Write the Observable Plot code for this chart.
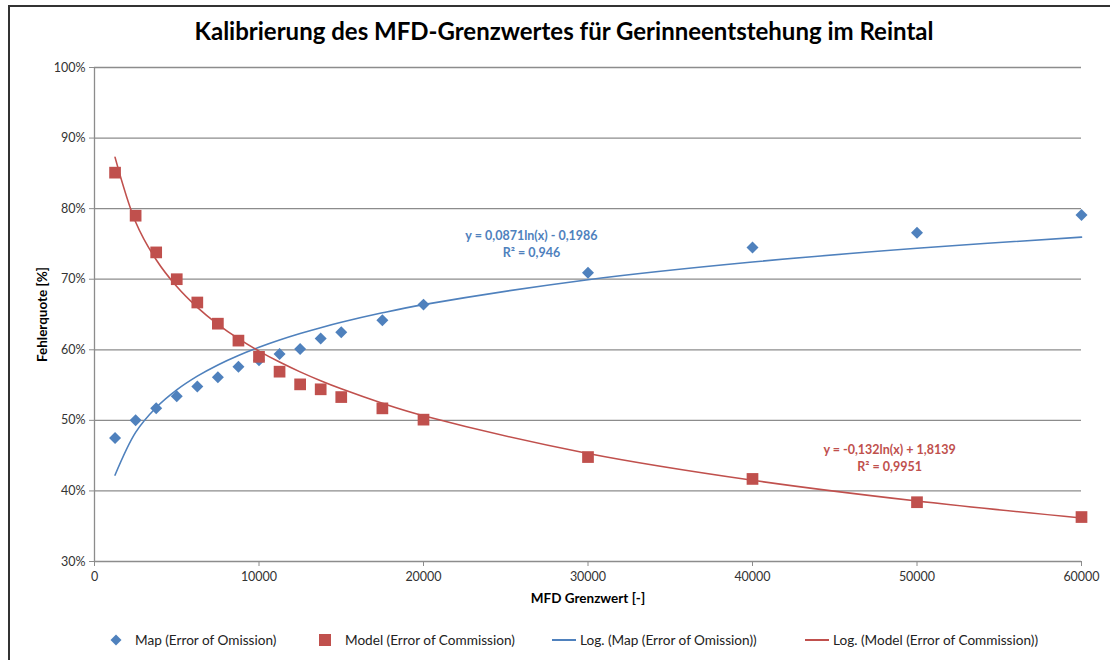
<!DOCTYPE html>
<html><head><meta charset="utf-8">
<script src="https://cdn.jsdelivr.net/npm/d3@7"></script>
<script src="https://cdn.jsdelivr.net/npm/@observablehq/plot@0.6"></script>
<style>
body{margin:0;background:#fff;font-family:Lato,"Open Sans",sans-serif;}
#wrap{position:relative;width:1110px;height:660px;overflow:hidden;background:#fff;}
#btop{position:absolute;left:8px;top:5px;width:1102px;height:2px;background:#333;}
#bleft{position:absolute;left:8px;top:5px;width:2px;height:655px;background:#333;}
#title{position:absolute;left:0;top:16px;width:1128px;text-align:center;font-weight:bold;font-size:24px;color:#000;font-family:Lato,sans-serif;}
#chart{position:absolute;left:0;top:40px;}
#legend{position:absolute;top:632px;left:0;width:1110px;height:20px;font-size:13.6px;color:#222;}
.li{position:absolute;top:0;display:flex;align-items:center;white-space:nowrap;}
.li svg{margin-right:4px;}
</style></head>
<body><div id="wrap"><div id="btop"></div><div id="bleft"></div>
<div id="title">Kalibrierung des MFD-Grenzwertes für Gerinneentstehung im Reintal</div>
<div id="chart"></div>
<div id="legend"></div>
</div>
<script>
const xs = [1250,2500,3750,5000,6250,7500,8750,10000,11250,12500,13750,15000,17500,20000,30000,40000,50000,60000];
const mapErr = [0.475,0.500,0.517,0.534,0.548,0.561,0.576,0.585,0.594,0.601,0.616,0.625,0.642,0.664,0.709,0.745,0.766,0.791];
const modelErr = [0.851,0.790,0.738,0.700,0.667,0.637,0.613,0.590,0.569,0.551,0.544,0.533,0.517,0.501,0.448,0.417,0.384,0.363];
const mapFit = [0.0871, -0.1986];   // slope, intercept of log trend (from chart)
const modelFit = [-0.132, 1.8139];
const mapEq = ["y = 0,0871ln(x) - 0,1986", "R² = 0,946"];
const modelEq = ["y = -0,132ln(x) + 1,8139", "R² = 0,9951"];
const xTicks = [0,10000,20000,30000,40000,50000,60000];
const yTicks = [0.3,0.4,0.5,0.6,0.7,0.8,0.9,1.0];
const seriesNames = ["Map (Error of Omission)","Model (Error of Commission)","Log. (Map (Error of Omission))","Log. (Model (Error of Commission))"];

const BLUE = "#4F81BD", RED = "#C0504D", GRID = "#8c8c8c";
const mapPts = xs.map((x,i)=>({x, y: mapErr[i]}));
const modelPts = xs.map((x,i)=>({x, y: modelErr[i]}));
const mapTrend = xs.map(x=>({x, y: mapFit[0]*Math.log(x)+mapFit[1]}));
const modelTrend = xs.map(x=>({x, y: modelFit[0]*Math.log(x)+modelFit[1]}));

const plot = Plot.plot({
  width: 1110, height: 590,
  marginLeft: 94, marginRight: 29, marginTop: 27, marginBottom: 69,
  style: {fontFamily: "Lato, sans-serif", fontSize: "12.5px", color: "#333", background: "transparent"},
  x: {domain: [0, 60000]},
  y: {domain: [0.3, 1.0]},
  marks: [
    Plot.gridY(yTicks.slice(1), {stroke: GRID, strokeOpacity: 1, strokeWidth: 1.3}),
    Plot.ruleX([0], {stroke: GRID, strokeWidth: 1.3}),
    Plot.ruleY([0.3], {stroke: GRID, strokeWidth: 1.3}),
    Plot.axisY(yTicks, {tickSize: 5, stroke: GRID, tickPadding: 4, fontSize: 12.5,
      tickFormat: d => Math.round(d*100) + "%",
      label: "Fehlerquote [%]", labelAnchor: "center", labelArrow: "none", labelOffset: 57}),
    Plot.axisX(xTicks, {tickSize: 5, stroke: GRID, tickPadding: 6, fontSize: 12.5,
      tickFormat: d => String(d),
      label: "MFD Grenzwert [-]", labelAnchor: "center", labelArrow: "none", labelOffset: 41}),
    Plot.line(mapTrend, {x: "x", y: "y", stroke: BLUE, strokeWidth: 1.6, curve: "catmull-rom"}),
    Plot.line(modelTrend, {x: "x", y: "y", stroke: RED, strokeWidth: 1.6, curve: "catmull-rom"}),
    Plot.dot(mapPts, {x: "x", y: "y", symbol: "diamond2", r: 5.4, fill: BLUE, stroke: null}),
    Plot.dot(modelPts, {x: "x", y: "y", symbol: "square", r: 6.6, fill: RED, stroke: null}),
    Plot.text([mapEq.join("\n")], {x: 26565, y: 0.7513, text: d => d, fill: BLUE, fontWeight: "bold", fontSize: 12.5, lineHeight: 1.36, lineAnchor: "middle"}),
    Plot.text([modelEq.join("\n")], {x: 48330, y: 0.4474, text: d => d, fill: RED, fontWeight: "bold", fontSize: 12.5, lineHeight: 1.36, lineAnchor: "middle"})
  ]
});
// make axis labels bold and sized like the reference
plot.querySelectorAll("g[aria-label='y-axis label'], g[aria-label='x-axis label']").forEach(g => {
  g.setAttribute("font-size", "13.5"); g.setAttribute("font-weight", "bold");
  g.style.fontSize = "13.5px";
  g.querySelectorAll("text").forEach(t => { t.setAttribute("font-weight", "bold"); t.style.fill = "#000"; t.style.fontSize = "13.5px"; });
});
document.getElementById("chart").appendChild(plot);

// legend
const leg = document.getElementById("legend");
const legX = [108, 316, 552, 805];
const sym = [
  `<svg width="16" height="16"><path d="M8,2.5L13.5,8L8,13.5L2.5,8Z" fill="${BLUE}"/></svg>`,
  `<svg width="18" height="16"><rect x="3" y="2" width="12" height="12" fill="${RED}"/></svg>`,
  `<svg width="24" height="16"><line x1="0" y1="8" x2="24" y2="8" stroke="${BLUE}" stroke-width="2"/></svg>`,
  `<svg width="24" height="16"><line x1="0" y1="8" x2="24" y2="8" stroke="${RED}" stroke-width="2"/></svg>`
];
seriesNames.forEach((n,i) => {
  const d = document.createElement("div");
  d.className = "li"; d.style.left = legX[i] + "px";
  d.innerHTML = sym[i] + (i < 2 ? "&nbsp;&nbsp;" : "") + `<span>${n}</span>`;
  leg.appendChild(d);
});
</script></body></html>
